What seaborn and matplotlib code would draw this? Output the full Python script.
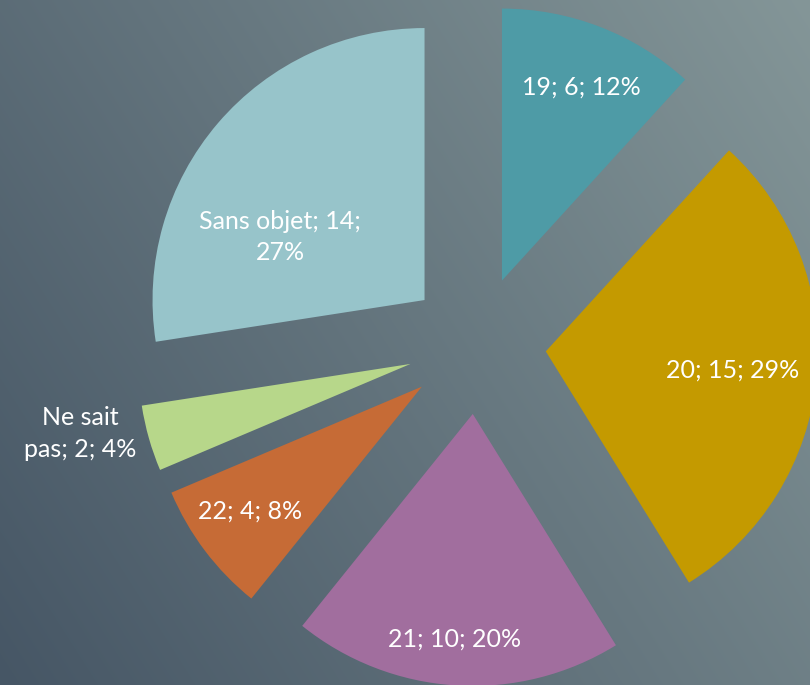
import numpy as np
import matplotlib
matplotlib.use('Agg')
from matplotlib import pyplot as plt
import seaborn as sns

sns.set_theme(style='white')
plt.rcParams['font.family'] = ['Lato', 'DejaVu Sans']

# data
categories = ['19', '20', '21', '22', 'Ne sait pas', 'Sans objet']
counts = [6, 15, 10, 4, 2, 14]
percents = [12, 29, 20, 8, 4, 27]
colors = ['#4E9BA6', '#C49A00', '#A16E9E', '#C66B36', '#B7D78A', '#97C4CA']

# label placement (fraction of radius from slice tip, angle tweak in degrees)
label_frac = [0.77, 0.69, 0.83, 0.78, 1.24, 0.58]
label_dang = [-1, -0.5, -1, -1, -4, 17]
label_text = ['19; 6; 12%', '20; 15; 29%', '21; 10; 20%', '22; 4; 8%',
              'Ne sait\npas; 2; 4%', 'Sans objet; 14;\n27%']

W, H = 810, 685
R = 272
fig = plt.figure(figsize=(W / 100, H / 100), dpi=100)
ax = fig.add_axes([0, 0, 1, 1])

# background gradient: dark slate at lower-left, lighter grey-teal at upper-right
yy, xx = np.mgrid[0:H, 0:W]
u = 0.65 * xx / W + 0.35 * yy / H
u = np.clip(u, 0, 1)[..., None]
dark = np.array([70, 86, 101]) / 255
light = np.array([132, 150, 152]) / 255
bg = dark + (light - dark) * u
ax.imshow(bg, extent=[0, W, 0, H], origin='lower', zorder=0, aspect='auto')

# explode is in data units here (radius is in pixels)
wedges, _ = ax.pie(counts, colors=colors, startangle=90, counterclock=False,
                   explode=[0.254 * R] * len(counts), radius=R, center=(477, 340),
                   wedgeprops=dict(linewidth=0), frame=True)
ax.set_xlim(0, W)
ax.set_ylim(0, H)
ax.axis('off')

for w, txt, fr, da in zip(wedges, label_text, label_frac, label_dang):
    mid = np.deg2rad((w.theta1 + w.theta2) / 2 + da)
    cx, cy = w.center
    x = cx + fr * w.r * np.cos(mid)
    y = cy + fr * w.r * np.sin(mid)
    ax.text(x, y, txt, ha='center', va='center', color='white',
            fontsize=18, linespacing=1.45, multialignment='center')

plt.savefig('out.png', dpi=100)
